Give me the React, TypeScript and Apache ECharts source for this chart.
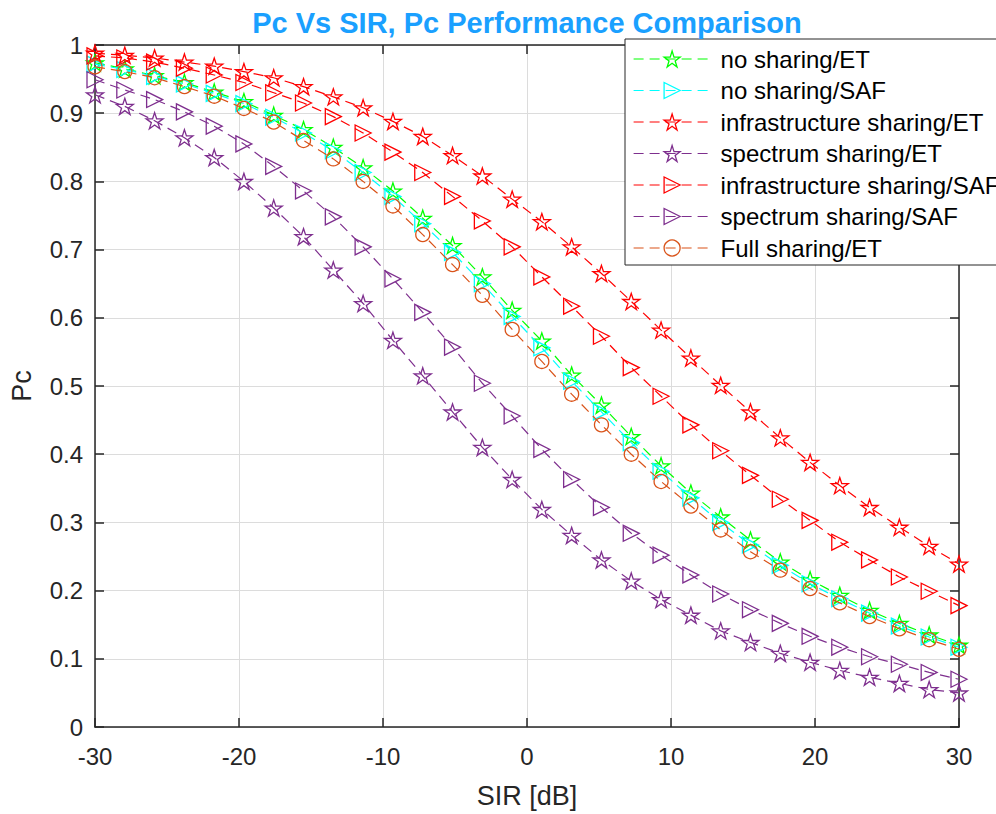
import React, { useEffect, useRef } from "react";
import * as echarts from "echarts";

const SIR = [
  -30, -27.93, -25.86, -23.79, -21.72, -19.66, -17.59, -15.52, -13.45, -11.38,
  -9.31, -7.24, -5.17, -3.1, -1.03, 1.03, 3.1, 5.17, 7.24, 9.31,
  11.38, 13.45, 15.52, 17.59, 19.66, 21.72, 23.79, 25.86, 27.93, 30,
];

const noSharingET = [
  0.974, 0.965, 0.955, 0.945, 0.931, 0.917, 0.897, 0.876, 0.85, 0.82,
  0.786, 0.746, 0.706, 0.66, 0.611, 0.566, 0.516, 0.472, 0.426, 0.383,
  0.343, 0.308, 0.274, 0.242, 0.216, 0.193, 0.171, 0.152, 0.135, 0.12,
];
const noSharingSAF = [
  0.972, 0.964, 0.954, 0.943, 0.929, 0.914, 0.894, 0.871, 0.845, 0.813,
  0.778, 0.738, 0.696, 0.65, 0.602, 0.556, 0.507, 0.462, 0.417, 0.375,
  0.336, 0.3, 0.267, 0.237, 0.21, 0.188, 0.167, 0.148, 0.132, 0.117,
];
const infraET = [
  0.988, 0.985, 0.981, 0.975, 0.969, 0.961, 0.952, 0.939, 0.924, 0.908,
  0.888, 0.866, 0.838, 0.808, 0.774, 0.741, 0.704, 0.665, 0.624, 0.582,
  0.541, 0.501, 0.462, 0.424, 0.388, 0.354, 0.322, 0.293, 0.265, 0.239,
];
const spectrumET = [
  0.927, 0.91, 0.889, 0.864, 0.835, 0.8, 0.761, 0.719, 0.67, 0.621,
  0.567, 0.515, 0.462, 0.41, 0.363, 0.319, 0.281, 0.245, 0.214, 0.187,
  0.164, 0.141, 0.124, 0.108, 0.095, 0.083, 0.073, 0.064, 0.055, 0.05,
];
const infraSAF = [
  0.984, 0.981, 0.975, 0.966, 0.956, 0.945, 0.93, 0.915, 0.895, 0.871,
  0.843, 0.813, 0.778, 0.742, 0.704, 0.66, 0.617, 0.573, 0.527, 0.485,
  0.443, 0.405, 0.369, 0.334, 0.303, 0.271, 0.245, 0.22, 0.199, 0.178,
];
const spectrumSAF = [
  0.949, 0.934, 0.92, 0.902, 0.881, 0.855, 0.822, 0.786, 0.748, 0.704,
  0.657, 0.608, 0.557, 0.504, 0.456, 0.407, 0.363, 0.322, 0.284, 0.252,
  0.223, 0.195, 0.172, 0.152, 0.133, 0.117, 0.103, 0.092, 0.08, 0.07,
];
const fullSharingET = [
  0.968, 0.961, 0.952, 0.939, 0.925, 0.907, 0.887, 0.86, 0.833, 0.8,
  0.764, 0.722, 0.678, 0.633, 0.583, 0.536, 0.488, 0.443, 0.4, 0.36,
  0.324, 0.289, 0.257, 0.23, 0.203, 0.182, 0.162, 0.144, 0.128, 0.114,
];

const SERIES_NAMES = [
  "no sharing/ET",
  "no sharing/SAF",
  "infrastructure sharing/ET",
  "spectrum sharing/ET",
  "infrastructure sharing/SAF",
  "spectrum sharing/SAF",
  "Full sharing/ET",
];

const X_TICKS = [-30, -20, -10, 0, 10, 20, 30];

const STAR =
  "path://M50,0L61.2,34.5L97.6,34.5L68.2,55.9L79.4,90.5L50,69.1L20.6,90.5L31.8,55.9L2.4,34.5L38.8,34.5Z";

const FONT = "'Liberation Sans', Arial, sans-serif";
const AXIS_COLOR = "#262626";
const HOLLOW = "rgba(255,255,255,0)";

export default function App() {
  const ref = useRef<HTMLDivElement>(null);

  useEffect(() => {
    if (!ref.current) return;
    const chart = echarts.init(ref.current, undefined, { renderer: "svg" });

    const defs = [
      { data: noSharingET, color: "#00ff00", symbol: STAR, size: 17, rotate: 0 },
      { data: noSharingSAF, color: "#00ffff", symbol: "triangle", size: 16, rotate: -90 },
      { data: infraET, color: "#ff0000", symbol: STAR, size: 17, rotate: 0 },
      { data: spectrumET, color: "#7e2f8e", symbol: STAR, size: 17, rotate: 0 },
      { data: infraSAF, color: "#ff0000", symbol: "triangle", size: 16, rotate: -90 },
      { data: spectrumSAF, color: "#7e2f8e", symbol: "triangle", size: 16, rotate: -90 },
      { data: fullSharingET, color: "#d95319", symbol: "circle", size: 14, rotate: 0 },
    ];

    const series = defs.map((d, i) => ({
      name: SERIES_NAMES[i],
      type: "line",
      data: SIR.map((x, k) => [x, d.data[k]]),
      symbol: d.symbol,
      symbolSize: d.size,
      symbolRotate: d.rotate,
      symbolKeepAspect: true,
      showSymbol: true,
      showAllSymbol: true,
      lineStyle: { color: d.color, width: 1.2, type: [10, 6] },
      itemStyle: { color: HOLLOW, borderColor: d.color, borderWidth: 1.3 },
      emphasis: { disabled: true },
      z: 2 + i,
    }));

    const legendData = defs.map((d, i) => ({
      name: SERIES_NAMES[i],
      itemStyle: { color: HOLLOW, borderColor: d.color, borderWidth: 1.3 },
      lineStyle: { color: d.color, width: 1.2, type: [10, 6] },
    }));

    const tickLabel = { fontSize: 24, color: AXIS_COLOR, fontFamily: FONT };

    chart.setOption({
      animation: false,
      backgroundColor: "#ffffff",
      title: {
        text: "Pc Vs SIR, Pc Performance Comparison",
        left: 527,
        top: 8,
        padding: 0,
        textAlign: "center",
        textStyle: { fontSize: 29, fontWeight: "bold", color: "#1aa0ff", fontFamily: FONT },
      },
      grid: { left: 95, right: 37, top: 45, bottom: 83, containLabel: false },
      legend: {
        data: legendData,
        orient: "vertical",
        left: 625,
        top: 39,
        padding: [8, 30, 5, 8],
        itemWidth: 77,
        itemHeight: 20,
        itemGap: 7.5,
        selectedMode: false,
        backgroundColor: "#ffffff",
        borderColor: AXIS_COLOR,
        borderWidth: 1,
        borderRadius: 0,
        itemStyle: { color: HOLLOW, borderWidth: 1.3 },
        textStyle: { fontSize: 24, color: "#000", fontFamily: FONT, padding: [0, 0, 0, 5] },
      },
      xAxis: [
        {
          type: "value",
          min: -30,
          max: 30,
          interval: 10,
          name: "SIR [dB]",
          nameLocation: "middle",
          nameGap: 55,
          nameTextStyle: { fontSize: 27, color: AXIS_COLOR, fontFamily: FONT },
          axisLine: { show: true, onZero: false, lineStyle: { color: AXIS_COLOR, width: 1.5 } },
          axisTick: { show: true, inside: true, length: 9, lineStyle: { color: AXIS_COLOR, width: 1.5 } },
          axisLabel: { ...tickLabel, margin: 17, formatter: (v: number) => (X_TICKS.includes(v) ? String(v) : "") },
          splitLine: { show: true, lineStyle: { color: "#dcdcdc", width: 1 } },
        },
        {
          type: "value",
          position: "top",
          min: -30,
          max: 30,
          interval: 10,
          axisLine: { show: true, onZero: false, lineStyle: { color: AXIS_COLOR, width: 1.5 } },
          axisTick: { show: true, inside: true, length: 9, lineStyle: { color: AXIS_COLOR, width: 1.5 } },
          axisLabel: { show: false },
          splitLine: { show: false },
        },
      ],
      yAxis: [
        {
          type: "value",
          min: 0,
          max: 1,
          interval: 0.1,
          name: "Pc",
          nameLocation: "middle",
          nameGap: 60,
          nameRotate: 90,
          nameTextStyle: { fontSize: 27, color: AXIS_COLOR, fontFamily: FONT },
          axisLine: { show: true, onZero: false, lineStyle: { color: AXIS_COLOR, width: 1.5 } },
          axisTick: { show: true, inside: true, length: 9, lineStyle: { color: AXIS_COLOR, width: 1.5 } },
          axisLabel: {
            ...tickLabel,
            margin: 12,
            formatter: (v: number) => {
              const r = Math.round(v * 10) / 10;
              return r === 0 ? "0" : r === 1 ? "1" : r.toFixed(1);
            },
          },
          splitLine: { show: true, lineStyle: { color: "#dcdcdc", width: 1 } },
        },
        {
          type: "value",
          position: "right",
          min: 0,
          max: 1,
          interval: 0.1,
          axisLine: { show: true, onZero: false, lineStyle: { color: AXIS_COLOR, width: 1.5 } },
          axisTick: { show: true, inside: true, length: 9, lineStyle: { color: AXIS_COLOR, width: 1.5 } },
          axisLabel: { show: false },
          splitLine: { show: false },
        },
      ],
      series,
    });

    return () => chart.dispose();
  }, []);

  return (
    <div
      ref={ref}
      style={{ position: "fixed", left: 0, top: 0, width: 996, height: 814, background: "#fff" }}
    />
  );
}
